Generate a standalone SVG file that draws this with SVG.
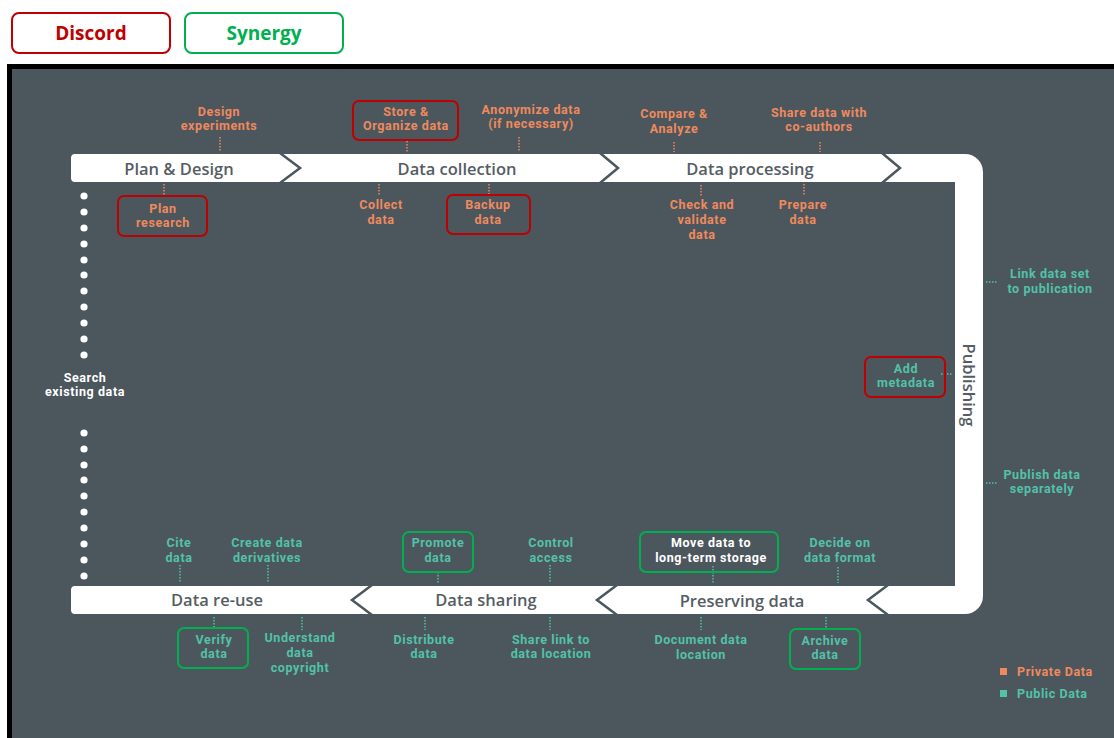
<svg xmlns="http://www.w3.org/2000/svg" width="1114" height="738" viewBox="0 0 1114 738">
<style>
.lbl{font-family:Roboto,"Liberation Sans",sans-serif;font-weight:700;font-size:12.5px;letter-spacing:0.6px;text-anchor:middle}
.o{fill:#ef8a5e}
.t{fill:#52c2aa}
.w{fill:#ffffff}
.bar{font-family:"Open Sans","Liberation Sans",sans-serif;font-weight:600;font-size:16.5px;fill:#555d63;text-anchor:middle}
.dO{stroke:#ef8a5e;stroke-width:1.5;stroke-dasharray:1.5 1.5;fill:none}
.dT{stroke:#52c2aa;stroke-width:1.5;stroke-dasharray:1.5 1.5;fill:none}
.red{fill:none;stroke:#c00000;stroke-width:2}
.grn{fill:none;stroke:#00b050;stroke-width:2}
.chev{fill:none;stroke:#4c565d;stroke-width:2.5}
.hdr{font-family:"Open Sans","Liberation Sans",sans-serif;font-weight:700;font-size:19px;text-anchor:middle}
.leg{font-family:Roboto,"Liberation Sans",sans-serif;font-weight:700;font-size:12.5px;letter-spacing:0.6px}
</style>
<rect x="0" y="0" width="1114" height="738" fill="#ffffff"/>
<g id="legend-discord">
<rect x="12" y="13" width="158" height="40" rx="7" fill="#ffffff" stroke="#c00000" stroke-width="2"/>
<text x="91" y="40" class="hdr" fill="#c00000">Discord</text>
</g>
<g id="legend-synergy">
<rect x="185" y="13" width="158" height="40" rx="7" fill="#ffffff" stroke="#00b050" stroke-width="2"/>
<text x="264" y="40" class="hdr" fill="#00b050">Synergy</text>
</g>
<rect x="9.5" y="66.5" width="1110" height="680" fill="#4c565d" stroke="#000000" stroke-width="5"/>
<g id="cycle">
<path d="M75,154 H965 A18,18 0 0 1 983,172 V596 A18,18 0 0 1 965,614 H75 A4,4 0 0 1 71,610 V590 A4,4 0 0 1 75,586 H955 V182 H75 A4,4 0 0 1 71,178 V158 A4,4 0 0 1 75,154 Z" fill="#ffffff"/>
<polyline class="chev" points="280,153 300,168 280,183"/>
<polyline class="chev" points="600,153 618,168 600,183"/>
<polyline class="chev" points="882,153 900,168 882,183"/>
<polyline class="chev" points="372,585 352,600 372,615"/>
<polyline class="chev" points="617,585 597,600 617,615"/>
<polyline class="chev" points="888,585 868,600 888,615"/>
</g>
<g id="stage-plan"><text x="179" y="175" class="bar">Plan &amp; Design</text></g>
<g id="stage-collection"><text x="457" y="175" class="bar">Data collection</text></g>
<g id="stage-processing"><text x="750" y="175" class="bar">Data processing</text></g>
<g id="stage-publishing"><text x="0" y="0" class="bar" transform="translate(963,385) rotate(90)">Publishing</text></g>
<g id="stage-preserving"><text x="742" y="607" class="bar">Preserving data</text></g>
<g id="stage-sharing"><text x="486" y="606" class="bar">Data sharing</text></g>
<g id="stage-reuse"><text x="217" y="606" class="bar">Data re-use</text></g>
<g id="search">
<g fill="#ffffff">
<circle cx="84" cy="196" r="3.6"/><circle cx="84" cy="212" r="3.6"/><circle cx="84" cy="228" r="3.6"/><circle cx="84" cy="244" r="3.6"/><circle cx="84" cy="260" r="3.6"/><circle cx="84" cy="275" r="3.6"/><circle cx="84" cy="291" r="3.6"/><circle cx="84" cy="307" r="3.6"/><circle cx="84" cy="323" r="3.6"/><circle cx="84" cy="339" r="3.6"/><circle cx="84" cy="355" r="3.6"/>
<circle cx="84" cy="433" r="3.6"/><circle cx="84" cy="449" r="3.6"/><circle cx="84" cy="465" r="3.6"/><circle cx="84" cy="480" r="3.6"/><circle cx="84" cy="496" r="3.6"/><circle cx="84" cy="512" r="3.6"/><circle cx="84" cy="528" r="3.6"/><circle cx="84" cy="544" r="3.6"/><circle cx="84" cy="560" r="3.6"/><circle cx="84" cy="576" r="3.6"/>
</g>
<text class="lbl w" x="85" y="381.6">Search<tspan x="85" dy="14.7">existing data</tspan></text>
</g>
<g id="connectors">
<line class="dO" x1="220" y1="137" x2="220" y2="152"/>
<line class="dO" x1="164" y1="184" x2="164" y2="195"/>
<line class="dO" x1="407" y1="141" x2="407" y2="152"/>
<line class="dO" x1="519" y1="137" x2="519" y2="152"/>
<line class="dO" x1="379" y1="184" x2="379" y2="196"/>
<line class="dO" x1="489" y1="184" x2="489" y2="194"/>
<line class="dO" x1="674" y1="142" x2="674" y2="152"/>
<line class="dO" x1="820" y1="142" x2="820" y2="152"/>
<line class="dO" x1="701" y1="185" x2="701" y2="196"/>
<line class="dO" x1="804" y1="184" x2="804" y2="196"/>
<line class="dT" x1="986" y1="282" x2="997" y2="282"/>
<line class="dT" x1="941" y1="374" x2="952" y2="374"/>
<line class="dT" x1="986" y1="483" x2="997" y2="483"/>
<line class="dT" x1="180" y1="565" x2="180" y2="583"/>
<line class="dT" x1="268" y1="565" x2="268" y2="583"/>
<line class="dT" x1="214" y1="617" x2="214" y2="627"/>
<line class="dT" x1="302" y1="617" x2="302" y2="630"/>
<line class="dT" x1="438" y1="572" x2="438" y2="583"/>
<line class="dT" x1="550" y1="565" x2="550" y2="583"/>
<line class="dT" x1="425" y1="617" x2="425" y2="630"/>
<line class="dT" x1="550" y1="617" x2="550" y2="630"/>
<line class="dT" x1="713" y1="566" x2="713" y2="583"/>
<line class="dT" x1="838" y1="567" x2="838" y2="583"/>
<line class="dT" x1="701" y1="617" x2="701" y2="630"/>
<line class="dT" x1="826" y1="617" x2="826" y2="628"/>
</g>
<g id="design-experiments"><text class="lbl o" x="219" y="115.6">Design<tspan x="219" dy="14.7">experiments</tspan></text></g>
<g id="plan-research"><rect class="red" x="118" y="196" width="89" height="40" rx="6"/><text class="lbl o" x="163" y="212.6">Plan<tspan x="163" dy="14.7">research</tspan></text></g>
<g id="store-organize"><rect class="red" x="353" y="101" width="105" height="39" rx="6"/><text class="lbl o" x="406" y="115.6">Store &amp;<tspan x="406" dy="14.7">Organize data</tspan></text></g>
<g id="anonymize"><text class="lbl o" x="531" y="113.6">Anonymize data<tspan x="531" dy="14.7">(if necessary)</tspan></text></g>
<g id="collect-data"><text class="lbl o" x="381" y="209.2">Collect<tspan x="381" dy="14.7">data</tspan></text></g>
<g id="backup-data"><rect class="red" x="447" y="195" width="83" height="39" rx="6"/><text class="lbl o" x="488" y="209.2">Backup<tspan x="488" dy="14.7">data</tspan></text></g>
<g id="compare-analyze"><text class="lbl o" x="674" y="118.2">Compare &amp;<tspan x="674" dy="14.7">Analyze</tspan></text></g>
<g id="share-coauthors"><text class="lbl o" x="819" y="116.6">Share data with<tspan x="819" dy="14.7">co-authors</tspan></text></g>
<g id="check-validate"><text class="lbl o" x="702" y="209.3">Check and<tspan x="702" dy="14.7">validate</tspan><tspan x="702" dy="14.7">data</tspan></text></g>
<g id="prepare-data"><text class="lbl o" x="803" y="209.2">Prepare<tspan x="803" dy="14.7">data</tspan></text></g>
<g id="link-publication"><text class="lbl t" x="1050" y="278.2">Link data set<tspan x="1050" dy="14.7">to publication</tspan></text></g>
<g id="add-metadata"><rect class="red" x="865" y="357" width="80" height="40" rx="6"/><text class="lbl t" x="906" y="372.6">Add<tspan x="906" dy="14.7">metadata</tspan></text></g>
<g id="publish-separately"><text class="lbl t" x="1042" y="478.6">Publish data<tspan x="1042" dy="14.7">separately</tspan></text></g>
<g id="cite-data"><text class="lbl t" x="179" y="547.2">Cite<tspan x="179" dy="14.7">data</tspan></text></g>
<g id="create-derivatives"><text class="lbl t" x="267" y="547.2">Create data<tspan x="267" dy="14.7">derivatives</tspan></text></g>
<g id="verify-data"><rect class="grn" x="178" y="628" width="70" height="40" rx="6"/><text class="lbl t" x="214" y="643.6">Verify<tspan x="214" dy="14.7">data</tspan></text></g>
<g id="understand-copyright"><text class="lbl t" x="300" y="642.3">Understand<tspan x="300" dy="14.7">data</tspan><tspan x="300" dy="14.7">copyright</tspan></text></g>
<g id="promote-data"><rect class="grn" x="403" y="532" width="70" height="40" rx="6"/><text class="lbl t" x="438" y="547.2">Promote<tspan x="438" dy="14.7">data</tspan></text></g>
<g id="control-access"><text class="lbl t" x="551" y="547.2">Control<tspan x="551" dy="14.7">access</tspan></text></g>
<g id="distribute-data"><text class="lbl t" x="424" y="643.6">Distribute<tspan x="424" dy="14.7">data</tspan></text></g>
<g id="share-link"><text class="lbl t" x="551" y="643.6">Share link to<tspan x="551" dy="14.7">data location</tspan></text></g>
<g id="move-longterm"><rect class="grn" x="640" y="532" width="138" height="40" rx="6"/><text class="lbl w" x="711" y="547.2">Move data to<tspan x="711" dy="14.7">long-term storage</tspan></text></g>
<g id="decide-format"><text class="lbl t" x="840" y="547.2">Decide on<tspan x="840" dy="14.7">data format</tspan></text></g>
<g id="document-location"><text class="lbl t" x="701" y="644.2">Document data<tspan x="701" dy="14.7">location</tspan></text></g>
<g id="archive-data"><rect class="grn" x="790" y="629" width="70" height="40" rx="6"/><text class="lbl t" x="825" y="644.6">Archive<tspan x="825" dy="14.7">data</tspan></text></g>
<g id="legend-data">
<rect x="1000" y="668" width="7" height="7" fill="#ef8a5e"/>
<text x="1017" y="675.5" class="leg" fill="#ef8a5e">Private Data</text>
<rect x="1000" y="690" width="7" height="7" fill="#52c2aa"/>
<text x="1017" y="697.5" class="leg" fill="#52c2aa">Public Data</text>
</g>
</svg>
